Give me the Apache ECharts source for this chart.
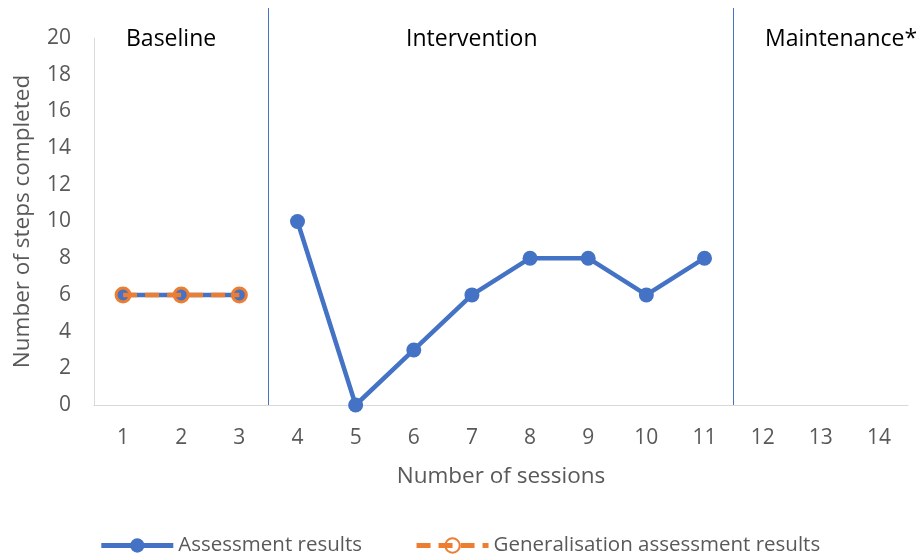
<!DOCTYPE html>
<html>
<head>
<meta charset="utf-8">
<script src="https://cdn.jsdelivr.net/npm/echarts@6/dist/echarts.min.js"></script>
<style>
  html, body { margin: 0; padding: 0; background: #fff; }
  #chart { width: 919px; height: 557px; }
</style>
</head>
<body>
<div id="chart"></div>
<script>
// Sessions on the x axis
var sessions = ['1', '2', '3', '4', '5', '6', '7', '8', '9', '10', '11', '12', '13', '14'];
// Assessment results: baseline phase and intervention phase (drawn as separate segments)
var assessmentBaseline = [6, 6, 6, null, null, null, null, null, null, null, null, null, null, null];
var assessmentIntervention = [null, null, null, 10, 0, 3, 6, 8, 8, 6, 8, null, null, null];
// Generalisation assessment results
var generalisation = [6, 6, 6, null, null, null, null, null, null, null, null, null, null, null];
// Phase change lines, in session units (between sessions)
var phaseBoundaries = [3.5, 11.5];
// Phase names
var phaseNames = ['Baseline', 'Intervention', 'Maintenance*'];

var FONT = 'Open Sans';
var BLUE = '#4472C4';
var ORANGE = '#ED7D31';
var GRAY_TEXT = '#595959';

var chart = echarts.init(document.getElementById('chart'));

var gridMain = { left: 94, right: 11, top: 38, bottom: 152 };
var gridPhase = { left: 94, right: 11, top: 8, bottom: 152 };

function phaseLabel(name, left) {
  return {
    type: 'text', left: left, top: 28,
    style: { text: name, fontSize: 23, fontFamily: FONT, fill: '#000' }
  };
}

chart.setOption({
  backgroundColor: '#ffffff',
  animation: false,
  textStyle: { fontFamily: FONT },
  grid: [gridMain, gridPhase],
  xAxis: [
    {
      type: 'category',
      gridIndex: 0,
      data: sessions,
      boundaryGap: true,
      axisLine: { lineStyle: { color: '#D9D9D9', width: 1 } },
      axisTick: { show: false },
      axisLabel: { color: GRAY_TEXT, fontSize: 21, margin: 23, fontFamily: FONT },
      name: 'Number of sessions',
      nameLocation: 'middle',
      nameGap: 60,
      nameTextStyle: { color: GRAY_TEXT, fontSize: 22.5, fontFamily: FONT }
    },
    {
      type: 'value',
      gridIndex: 1,
      min: 0.5,
      max: 14.5,
      show: false
    }
  ],
  yAxis: [
    {
      type: 'value',
      gridIndex: 0,
      min: 0,
      max: 20,
      interval: 2,
      axisLine: { show: true, lineStyle: { color: '#D9D9D9', width: 1 } },
      axisTick: { show: false },
      splitLine: { show: false },
      axisLabel: { color: GRAY_TEXT, fontSize: 21, margin: 23, fontFamily: FONT },
      name: 'Number of steps completed',
      nameLocation: 'middle',
      nameGap: 60,
      nameTextStyle: { color: GRAY_TEXT, fontSize: 22.5, fontFamily: FONT }
    },
    {
      type: 'value',
      gridIndex: 1,
      min: 0,
      max: 1,
      show: false
    }
  ],
  legend: {
    top: 530,
    left: 'center',
    itemWidth: 72,
    itemHeight: 18,
    itemGap: 52,
    lineStyle: { width: 5 },
    textStyle: { color: GRAY_TEXT, fontSize: 20.5, fontFamily: FONT },
    data: ['Assessment results', 'Generalisation assessment results']
  },
  graphic: [
    phaseLabel(phaseNames[0], 126),
    phaseLabel(phaseNames[1], 406),
    phaseLabel(phaseNames[2], 765)
  ],
  series: [
    {
      name: 'phase lines',
      type: 'line',
      xAxisIndex: 1,
      yAxisIndex: 1,
      data: [],
      silent: true,
      markLine: {
        silent: true,
        symbol: 'none',
        label: { show: false },
        lineStyle: { color: BLUE, width: 1, type: 'solid' },
        data: phaseBoundaries.map(function (v) { return { xAxis: v }; })
      }
    },
    {
      name: 'Assessment results',
      type: 'line',
      data: assessmentBaseline,
      symbol: 'circle',
      symbolSize: 15,
      connectNulls: false,
      itemStyle: { color: BLUE },
      lineStyle: { color: BLUE, width: 4.5 },
      z: 3
    },
    {
      name: 'Assessment results',
      type: 'line',
      data: assessmentIntervention,
      symbol: 'circle',
      symbolSize: 15,
      connectNulls: false,
      itemStyle: { color: BLUE },
      lineStyle: { color: BLUE, width: 4.5 },
      z: 3
    },
    {
      name: 'Generalisation assessment results',
      type: 'line',
      data: generalisation,
      symbol: 'circle',
      symbolSize: 14,
      itemStyle: { color: 'rgba(0,0,0,0)', borderColor: ORANGE, borderWidth: 3 },
      lineStyle: { color: ORANGE, width: 4.5, type: [14, 8] },
      z: 4
    }
  ]
});
</script>
</body>
</html>
